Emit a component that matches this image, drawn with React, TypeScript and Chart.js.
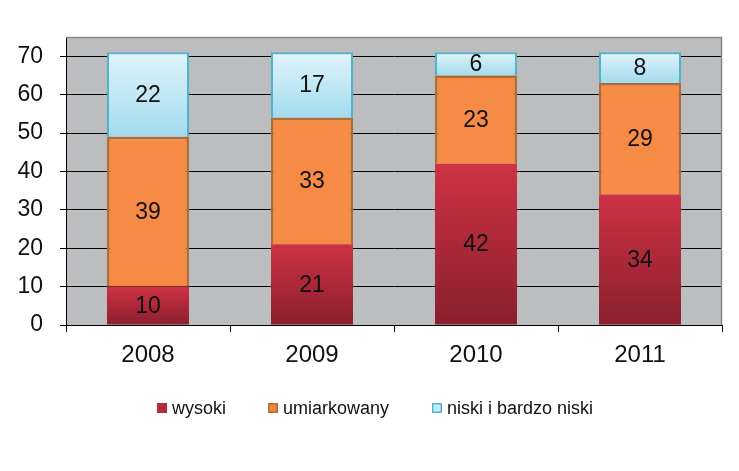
import React, { useEffect, useRef } from "react";
import { Chart, registerables } from "chart.js";

Chart.register(...registerables);

const categories = ["2008", "2009", "2010", "2011"];
const wysoki = [10, 21, 42, 34];
const umiarkowany = [39, 33, 23, 29];
const niski = [22, 17, 6, 8];
const seriesNames = ["wysoki", "umiarkowany", "niski i bardzo niski"];
const yTicks = [0, 10, 20, 30, 40, 50, 60, 70];
const yMax = 75;

const FONT = "'Liberation Sans', Arial, sans-serif";

function gradientFor(ctx: any, top: [string, string], startArr: number[], endArr: number[]) {
  const chart = ctx.chart;
  const y = chart.scales?.y;
  if (!chart.chartArea || !y || ctx.dataIndex === undefined) return top[0];
  const i = ctx.dataIndex;
  const y0 = y.getPixelForValue(endArr[i]);
  const y1 = y.getPixelForValue(startArr[i]);
  const g = chart.ctx.createLinearGradient(0, y0, 0, y1);
  g.addColorStop(0, top[0]);
  g.addColorStop(1, top[1]);
  return g;
}

const bgPlugin = {
  id: "plotBg",
  beforeDraw(chart: any) {
    const { ctx, chartArea: a } = chart;
    ctx.save();
    ctx.fillStyle = "#bbbdbf";
    ctx.fillRect(a.left, a.top, a.right - a.left, a.bottom - a.top);
    ctx.restore();
  },
  afterDatasetsDraw(chart: any) {
    const { ctx, chartArea: a } = chart;
    ctx.save();
    ctx.strokeStyle = "#858889";
    ctx.lineWidth = 1.5;
    ctx.beginPath();
    ctx.moveTo(a.left, a.top + 0.5);
    ctx.lineTo(a.right - 0.5, a.top + 0.5);
    ctx.lineTo(a.right - 0.5, a.bottom);
    ctx.stroke();
    ctx.restore();
    ctx.save();
    ctx.font = `23px ${FONT}`;
    ctx.fillStyle = "#111";
    ctx.textAlign = "center";
    ctx.textBaseline = "middle";
    chart.data.datasets.forEach((ds: any, di: number) => {
      const meta = chart.getDatasetMeta(di);
      meta.data.forEach((el: any, i: number) => {
        ctx.fillText(String(ds.data[i]), el.x, (el.y + el.base) / 2 + 1);
      });
    });
    ctx.restore();
  },
};

const legendPlugin = {
  id: "customLegend",
  afterDraw(chart: any) {
    const { ctx } = chart;
    const fills = ["#b82a3a", "#f0863f", "#c8ecf7"];
    const borders = ["#b82a3a", "#b46a33", "#4fb3cc"];
    const xs = [157, 268, 432];
    const yc = 408;
    ctx.save();
    ctx.font = `18px ${FONT}`;
    ctx.textBaseline = "middle";
    ctx.textAlign = "left";
    seriesNames.forEach((n, i) => {
      ctx.fillStyle = fills[i];
      ctx.fillRect(xs[i], yc - 5, 10, 10);
      ctx.strokeStyle = borders[i];
      ctx.lineWidth = 1.5;
      ctx.strokeRect(xs[i] + 0.75, yc - 4.25, 8.5, 8.5);
      ctx.fillStyle = "#111";
      ctx.fillText(n, xs[i] + 15, yc + 1);
    });
    ctx.restore();
  },
};

export default function App() {
  const ref = useRef<HTMLCanvasElement>(null);
  useEffect(() => {
    if (!ref.current) return;
    const base2 = wysoki.map((v, i) => v + umiarkowany[i]);
    const top3 = base2.map((v, i) => v + niski[i]);
    const zeros = wysoki.map(() => 0);
    const chart = new Chart(ref.current, {
      type: "bar",
      data: {
        labels: categories,
        datasets: [
          {
            label: seriesNames[0],
            data: wysoki,
            backgroundColor: (c: any) => gradientFor(c, ["#cd3243", "#8a1f2f"], zeros, wysoki),
            borderWidth: 0,
          },
          {
            label: seriesNames[1],
            data: umiarkowany,
            backgroundColor: "#f58b45",
            borderColor: "#b46a33",
            borderWidth: 2.5,
          },
          {
            label: seriesNames[2],
            data: niski,
            backgroundColor: (c: any) => gradientFor(c, ["#e0f4fb", "#a3dbee"], base2, top3),
            borderColor: "#4fb3cc",
            borderWidth: 2,
          },
        ],
      },
      options: {
        animation: false,
        responsive: false,
        maintainAspectRatio: false,
        layout: { padding: { left: 0, top: 37, right: 17, bottom: 106 } },
        datasets: { bar: { barPercentage: 0.5, categoryPercentage: 1.0 } } as any,
        plugins: { legend: { display: false }, tooltip: { enabled: false } },
        scales: {
          x: {
            stacked: true,
            offset: true,
            grid: { display: true, offset: true, drawOnChartArea: false, drawTicks: true, tickLength: 7, color: "#000" },
            border: { display: true, color: "#000", width: 1 },
            ticks: { color: "#111", font: { family: FONT, size: 24 }, padding: 9 },
            afterFit: (s: any) => { s.height = 40; },
          } as any,
          y: {
            stacked: true,
            min: 0,
            max: yMax,
            afterBuildTicks: (s: any) => {
              s.ticks = [...yTicks, yMax].map((v) => ({ value: v }));
            },
            grid: {
              color: (c: any) => (c.tick && !yTicks.includes(c.tick.value) ? "rgba(0,0,0,0)" : "#000"),
              lineWidth: 1,
              tickLength: 6,
            },
            border: { display: true, color: "#000", width: 1 },
            ticks: {
              color: "#111",
              font: { family: FONT, size: 23 },
              padding: 17,
              callback: (v: any) => (yTicks.includes(Number(v)) ? String(v) : ""),
            },
            afterFit: (s: any) => { s.width = 66; },
          } as any,
        },
      },
      plugins: [bgPlugin, legendPlugin],
    });
    return () => chart.destroy();
  }, []);
  return (
    <div style={{ position: "fixed", left: 0, top: 0, width: 739, height: 471, background: "#fff" }}>
      <canvas ref={ref} width={739} height={471} style={{ width: 739, height: 471 }} />
    </div>
  );
}
